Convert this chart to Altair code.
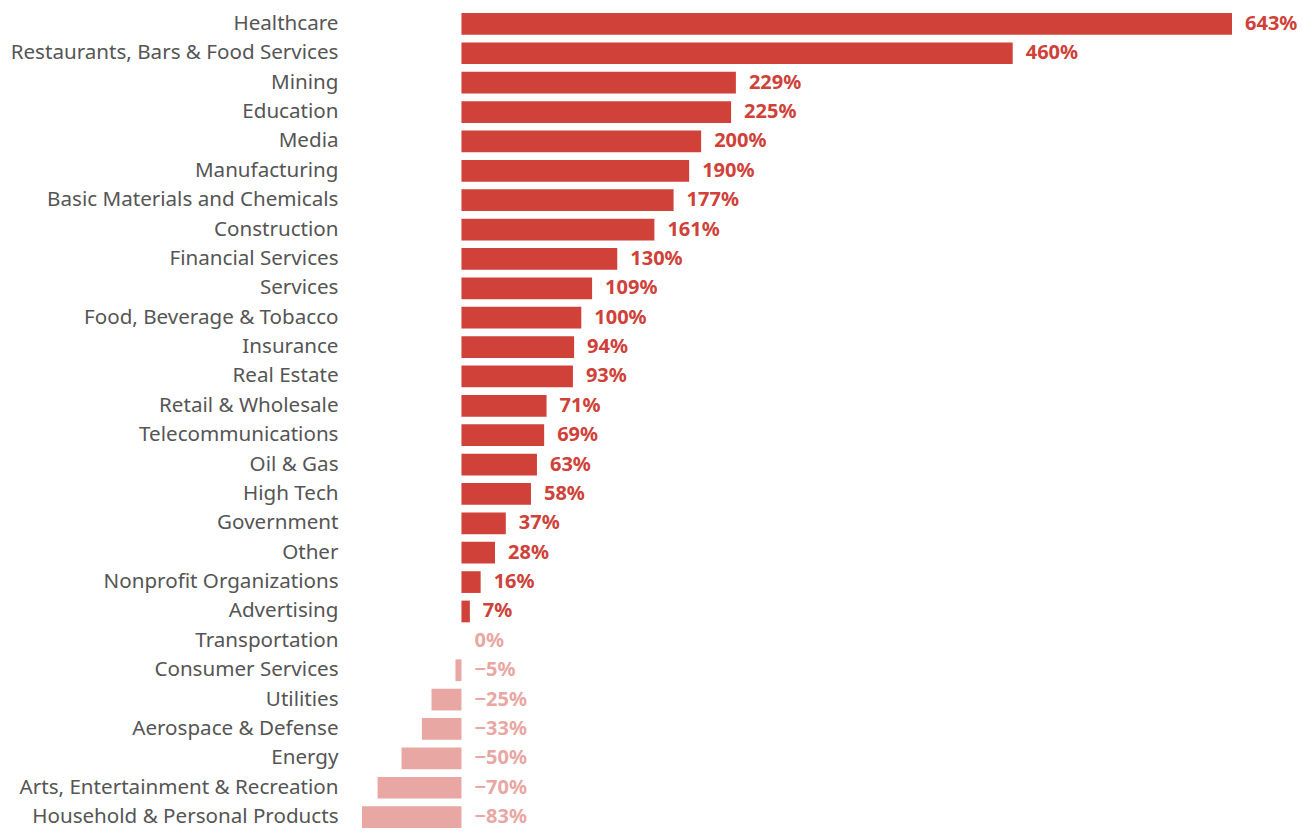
import altair as alt
import pandas as pd

categories = [
    "Healthcare", "Restaurants, Bars & Food Services", "Mining", "Education", "Media",
    "Manufacturing", "Basic Materials and Chemicals", "Construction", "Financial Services",
    "Services", "Food, Beverage & Tobacco", "Insurance", "Real Estate", "Retail & Wholesale",
    "Telecommunications", "Oil & Gas", "High Tech", "Government", "Other",
    "Nonprofit Organizations", "Advertising", "Transportation", "Consumer Services",
    "Utilities", "Aerospace & Defense", "Energy", "Arts, Entertainment & Recreation",
    "Household & Personal Products",
]
values = [643, 460, 229, 225, 200, 190, 177, 161, 130, 109, 100, 94, 93, 71, 69, 63, 58,
          37, 28, 16, 7, 0, -5, -25, -33, -50, -70, -83]

df = pd.DataFrame({"category": categories, "value": values})
df["label"] = df["value"].map(lambda v: f"{v}%".replace("-", "\u2212"))
df["pos"] = df["value"].clip(lower=0)
df["sign"] = df["value"].map(lambda v: "pos" if v > 0 else "neg")

FONT = "Noto Sans"
color = alt.Color("sign:N", scale=alt.Scale(domain=["pos", "neg"], range=["#cf4139", "#e9a7a4"]), legend=None)

y = alt.Y("category:N", sort=categories, title=None,
          scale=alt.Scale(paddingInner=0.26, paddingOuter=0.0),
          axis=alt.Axis(domain=False, ticks=False, labelPadding=24, labelFontSize=20.6,
                        labelFont=FONT, labelColor="#555555", labelLimit=500))
xscale = alt.Scale(domain=[-83, 643], nice=False, zero=True)

bars = alt.Chart(df).mark_bar().encode(
    x=alt.X("value:Q", scale=xscale, axis=None),
    x2=alt.datum(0),
    y=y,
    color=color,
)
text = alt.Chart(df).mark_text(align="left", baseline="middle", dx=13, fontSize=20,
                               fontWeight="bold", font=FONT).encode(
    x=alt.X("pos:Q", scale=xscale, axis=None),
    y=alt.Y("category:N", sort=categories),
    text="label:N",
    color=color,
)

chart = (bars + text).properties(width=870, height=815, padding={"left": 2, "top": 5, "right": 0, "bottom": 0}).configure_view(stroke=None)

chart.save("out.html", embed_options={"renderer": "svg", "actions": False})
